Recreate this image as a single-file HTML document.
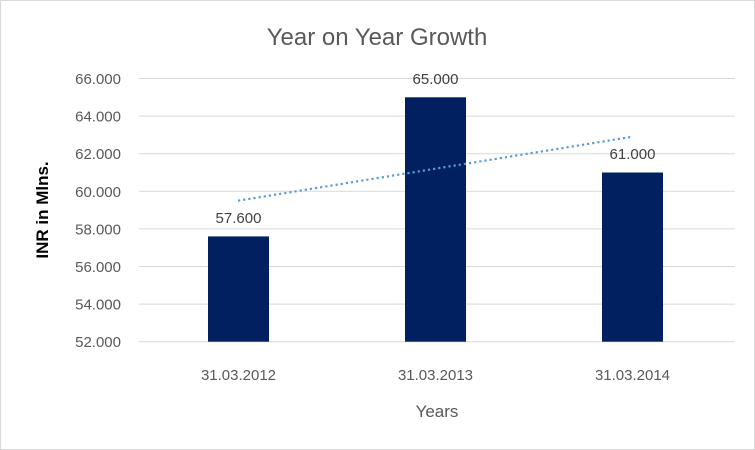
<!DOCTYPE html>
<html><head><meta charset="utf-8"><style>
html,body{margin:0;padding:0;background:#fff;}
svg{display:block;font-family:"Liberation Sans",sans-serif;}
</style></head><body>
<svg width="755" height="450" viewBox="0 0 755 450">
<rect x="0.5" y="0.5" width="754" height="449" fill="#fff" stroke="#d9d9d9"/>
<text x="377" y="45" text-anchor="middle" font-size="24" fill="#595959">Year on Year Growth</text>
<g stroke="#d9d9d9" stroke-width="1">
<line x1="139" x2="735" y1="78.5" y2="78.5"/>
<line x1="139" x2="735" y1="116.1" y2="116.1"/>
<line x1="139" x2="735" y1="153.7" y2="153.7"/>
<line x1="139" x2="735" y1="191.3" y2="191.3"/>
<line x1="139" x2="735" y1="228.9" y2="228.9"/>
<line x1="139" x2="735" y1="266.5" y2="266.5"/>
<line x1="139" x2="735" y1="304.1" y2="304.1"/>
<line x1="139" x2="735" y1="341.7" y2="341.7"/>
</g>
<g font-size="15" fill="#595959" text-anchor="end">
<text x="121" y="84">66.000</text>
<text x="121" y="121.6">64.000</text>
<text x="121" y="159.2">62.000</text>
<text x="121" y="196.8">60.000</text>
<text x="121" y="234.4">58.000</text>
<text x="121" y="272">56.000</text>
<text x="121" y="309.6">54.000</text>
<text x="121" y="347.2">52.000</text>
</g>
<text transform="translate(48,210) rotate(-90)" text-anchor="middle" font-size="17" font-weight="bold" fill="#000">INR in Mlns.</text>
<g fill="#002060">
<rect x="208" y="236.4" width="61" height="105.3"/>
<rect x="405" y="97.3" width="61" height="244.4"/>
<rect x="602" y="172.5" width="61" height="169.2"/>
</g>
<g font-size="15" fill="#404040" text-anchor="middle">
<text x="238.5" y="223">57.600</text>
<text x="435.5" y="84">65.000</text>
<text x="632.5" y="159">61.000</text>
</g>
<line x1="238" y1="200.7" x2="632" y2="136.8" stroke="#5b9bd5" stroke-width="2.2" stroke-dasharray="2.2 3"/>
<g font-size="15" fill="#595959" text-anchor="middle">
<text x="238.5" y="380">31.03.2012</text>
<text x="435.5" y="380">31.03.2013</text>
<text x="632.5" y="380">31.03.2014</text>
</g>
<text x="437" y="417" text-anchor="middle" font-size="17" fill="#595959">Years</text>
</svg>
</body></html>
